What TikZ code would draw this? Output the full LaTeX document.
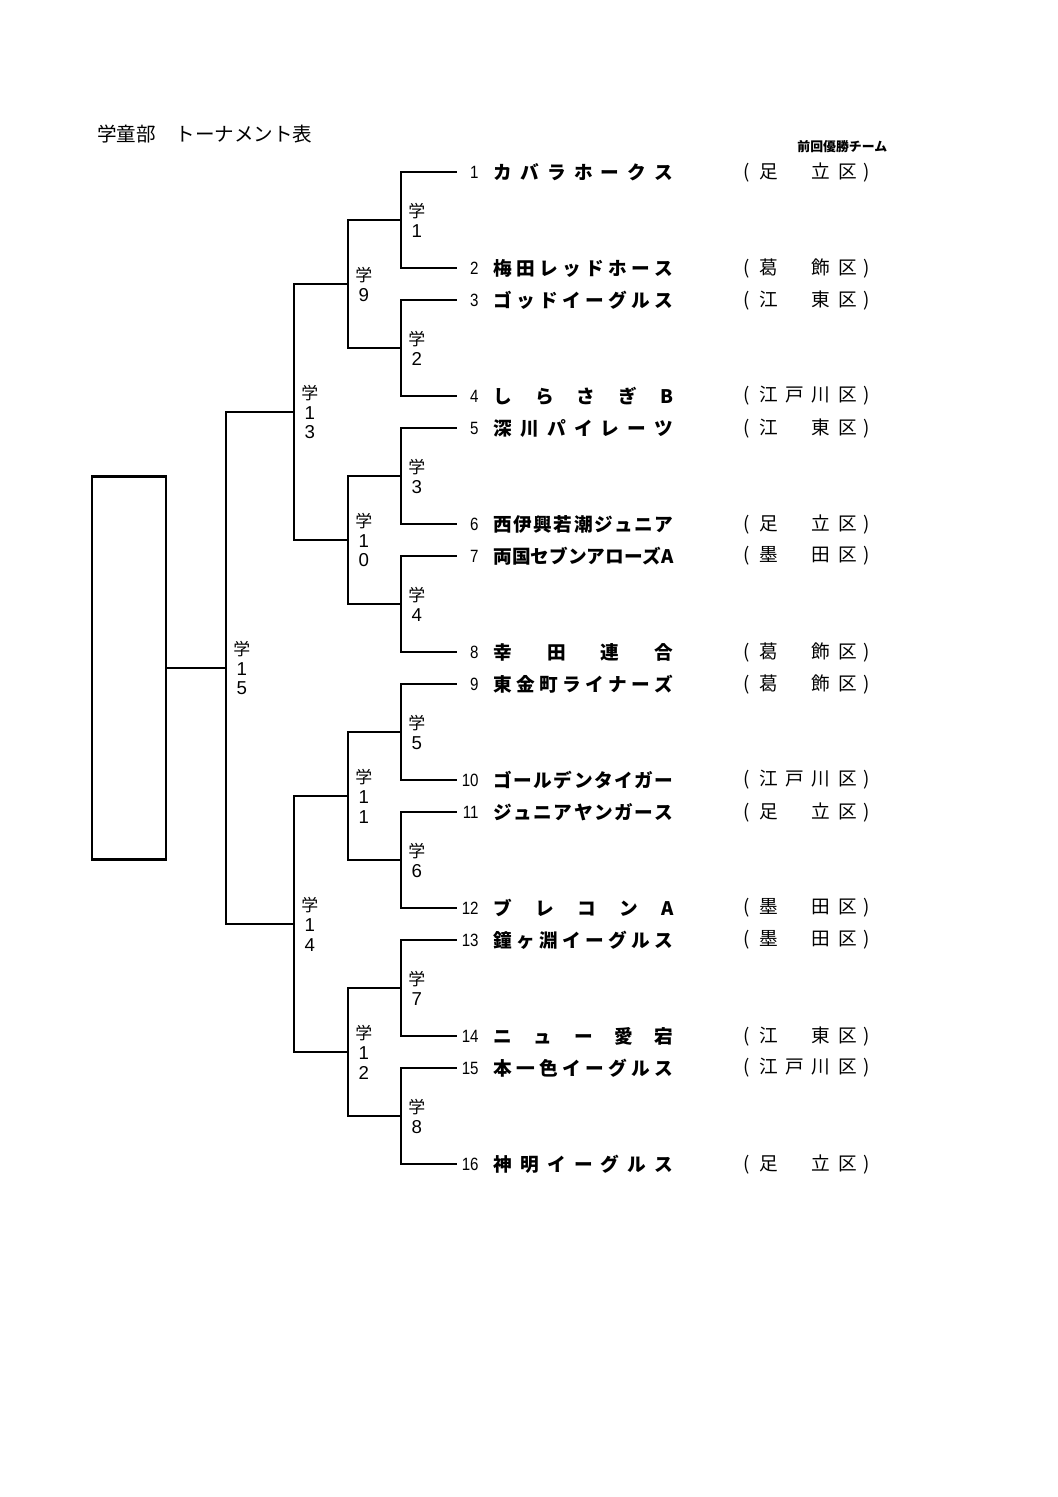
\documentclass[tikz,border=0pt]{standalone}
\usepackage{fontspec}
\setmainfont{Noto Sans CJK JP}
\newfontfamily\jp{Noto Sans CJK JP}
\newfontfamily\numf[FakeStretch=0.85]{Liberation Sans}
\newfontfamily\dgf{Liberation Sans}
\newcommand\dg[1]{{\dgf\fontsize{10.5}{11.2}\selectfont #1}}
\newlength\pxu
\setlength\pxu{0.5625pt}
\def\spreadA#1{#1\spreadB}
\def\spreadB#1{\ifx#1\relax\else\hfill#1\expandafter\spreadB\fi}
\newcommand\spr[1]{\hbox to 101.25pt{\spreadA#1\relax}}
\newcommand\dist[4]{\makebox[0pt]{(}\hspace{22\pxu}\makebox[0pt]{#1}\hspace{26\pxu}\makebox[0pt]{#2}\hspace{26\pxu}\makebox[0pt]{#3}\hspace{27\pxu}\makebox[0pt]{#4}\hspace{19\pxu}\makebox[0pt]{)}}
\newcommand\team[7]{%
  \coordinate (e#1) at (456,#2);
  \node[numsty] (n#1) at (479,#2) {#1};
  \node[namesty] (t#1) at (493,#2) {\spr{#3}};
  \node[dsty] (dist#1) at (746,#2) {\dist{#4}{#5}{#6}{#7}};
}
\begin{document}
\begin{tikzpicture}[x=0.5625pt,y=-0.5625pt,
  br/.style={line width=1.5pt, line join=miter, line cap=rect},
  numsty/.style={anchor=east, inner sep=0pt, font=\numf\fontsize{10}{11}\selectfont},
  namesty/.style={anchor=west, inner sep=0pt, font=\jp\bfseries\fontsize{10.5}{12}\selectfont},
  dsty/.style={anchor=west, inner sep=0pt, font=\jp\fontsize{10.5}{12}\selectfont},
  lab/.style={anchor=west, inner sep=0pt, align=center, font=\jp\fontsize{9.5}{11.2}\selectfont}]
\useasboundingbox (0,0) rectangle (1058,1497);

\node[anchor=west, inner sep=0pt, font=\jp\fontsize{11}{13}\selectfont] (title) at (97,134) {学童部　トーナメント表};
\node[anchor=west, inner sep=0pt, font=\jp\bfseries\fontsize{7.25}{9}\selectfont] (prev) at (797,147) {前回優勝チーム};

\team{1}{172}{カバラホークス}{足}{}{立}{区}
\team{2}{268}{梅田レッドホース}{葛}{}{飾}{区}
\team{3}{300}{ゴッドイーグルス}{江}{}{東}{区}
\team{4}{396}{しらさぎB}{江}{戸}{川}{区}
\team{5}{428}{深川パイレーツ}{江}{}{東}{区}
\team{6}{524}{西伊興若潮ジュニア}{足}{}{立}{区}
\team{7}{556}{両国セブンアローズA}{墨}{}{田}{区}
\team{8}{652}{幸田連合}{葛}{}{飾}{区}
\team{9}{684}{東金町ライナーズ}{葛}{}{飾}{区}
\team{10}{780}{ゴールデンタイガー}{江}{戸}{川}{区}
\team{11}{812}{ジュニアヤンガース}{足}{}{立}{区}
\team{12}{908}{ブレコンA}{墨}{}{田}{区}
\team{13}{940}{鐘ヶ淵イーグルス}{墨}{}{田}{区}
\team{14}{1036}{ニュー愛宕}{江}{}{東}{区}
\team{15}{1068}{本一色イーグルス}{江}{戸}{川}{区}
\team{16}{1164}{神明イーグルス}{足}{}{立}{区}

% bracket joints
\coordinate (a1) at (401,220);
\coordinate (a2) at (401,348);
\coordinate (a3) at (401,476);
\coordinate (a4) at (401,604);
\coordinate (a5) at (401,732);
\coordinate (a6) at (401,860);
\coordinate (a7) at (401,988);
\coordinate (a8) at (401,1116);
\coordinate (b1) at (348,284);
\coordinate (b2) at (348,540);
\coordinate (b3) at (348,796);
\coordinate (b4) at (348,1052);
\coordinate (c1) at (294,412);
\coordinate (c2) at (294,924);
\coordinate (r4) at (226,668);

\node[draw, line width=1.5pt, minimum width=41.6pt, minimum height=215.4pt, inner sep=0pt] (win) at (129,668) {};

\draw[br] (e1) -| (a1) |- (e2);
\draw[br] (e3) -| (a2) |- (e4);
\draw[br] (e5) -| (a3) |- (e6);
\draw[br] (e7) -| (a4) |- (e8);
\draw[br] (e9) -| (a5) |- (e10);
\draw[br] (e11) -| (a6) |- (e12);
\draw[br] (e13) -| (a7) |- (e14);
\draw[br] (e15) -| (a8) |- (e16);
\draw[br] (a1) -| (b1) |- (a2);
\draw[br] (a3) -| (b2) |- (a4);
\draw[br] (a5) -| (b3) |- (a6);
\draw[br] (a7) -| (b4) |- (a8);
\draw[br] (b1) -| (c1) |- (b2);
\draw[br] (b3) -| (c2) |- (b4);
\draw[br] (c1) -| (r4) |- (c2);
\draw[br] (r4) -- (win.east);

\node[lab] (la1) at ([xshift=4]a1) {学\\\dg{1}};
\node[lab] (la2) at ([xshift=4]a2) {学\\\dg{2}};
\node[lab] (la3) at ([xshift=4]a3) {学\\\dg{3}};
\node[lab] (la4) at ([xshift=4]a4) {学\\\dg{4}};
\node[lab] (la5) at ([xshift=4]a5) {学\\\dg{5}};
\node[lab] (la6) at ([xshift=4]a6) {学\\\dg{6}};
\node[lab] (la7) at ([xshift=4]a7) {学\\\dg{7}};
\node[lab] (la8) at ([xshift=4]a8) {学\\\dg{8}};
\node[lab] (lb1) at ([xshift=4]b1) {学\\\dg{9}};
\node[lab] (lb2) at ([xshift=4]b2) {学\\\dg{1}\\\dg{0}};
\node[lab] (lb3) at ([xshift=4]b3) {学\\\dg{1}\\\dg{1}};
\node[lab] (lb4) at ([xshift=4]b4) {学\\\dg{1}\\\dg{2}};
\node[lab] (lc1) at ([xshift=4]c1) {学\\\dg{1}\\\dg{3}};
\node[lab] (lc2) at ([xshift=4]c2) {学\\\dg{1}\\\dg{4}};
\node[lab] (lr4) at ([xshift=4]r4) {学\\\dg{1}\\\dg{5}};
\end{tikzpicture}
\end{document}
